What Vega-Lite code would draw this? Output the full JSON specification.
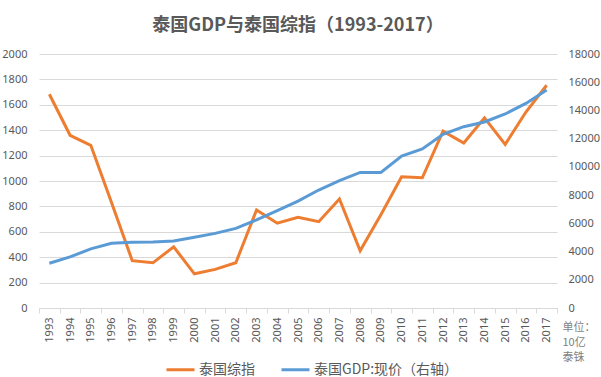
{
  "$schema": "https://vega.github.io/schema/vega-lite/v6.json",
  "autosize": "none",
  "width": 518,
  "height": 254,
  "padding": {"left": 39, "top": 54, "right": 44, "bottom": 69},
  "background": "white",
  "title": {
    "text": "泰国GDP与泰国综指（1993-2017）",
    "font": "Noto Sans CJK SC",
    "fontSize": 18,
    "fontWeight": "bold",
    "color": "#595959",
    "anchor": "middle",
    "offset": 13
  },
  "config": {
    "view": {"stroke": null},
    "axis": {
      "labelFont": "Noto Sans",
      "labelFontSize": 11,
      "labelColor": "#595959",
      "titleFont": "Noto Sans CJK SC"
    }
  },
  "data": {
    "values": [
      {"year": "1993", "sets": 1682.85, "gdp": 3170},
      {"year": "1994", "sets": 1360.09, "gdp": 3620},
      {"year": "1995", "sets": 1280.81, "gdp": 4190},
      {"year": "1996", "sets": 831.57, "gdp": 4590},
      {"year": "1997", "sets": 372.69, "gdp": 4660},
      {"year": "1998", "sets": 355.81, "gdp": 4670},
      {"year": "1999", "sets": 481.92, "gdp": 4750},
      {"year": "2000", "sets": 269.19, "gdp": 5010},
      {"year": "2001", "sets": 303.85, "gdp": 5290},
      {"year": "2002", "sets": 356.48, "gdp": 5640},
      {"year": "2003", "sets": 772.15, "gdp": 6240},
      {"year": "2004", "sets": 668.1, "gdp": 6900},
      {"year": "2005", "sets": 713.73, "gdp": 7580},
      {"year": "2006", "sets": 679.84, "gdp": 8360},
      {"year": "2007", "sets": 858.1, "gdp": 9020},
      {"year": "2008", "sets": 449.96, "gdp": 9610},
      {"year": "2009", "sets": 734.54, "gdp": 9610},
      {"year": "2010", "sets": 1032.76, "gdp": 10770},
      {"year": "2011", "sets": 1025.32, "gdp": 11270},
      {"year": "2012", "sets": 1391.93, "gdp": 12310},
      {"year": "2013", "sets": 1298.71, "gdp": 12850},
      {"year": "2014", "sets": 1497.67, "gdp": 13180},
      {"year": "2015", "sets": 1288.02, "gdp": 13750},
      {"year": "2016", "sets": 1542.94, "gdp": 14500},
      {"year": "2017", "sets": 1753.71, "gdp": 15450}
    ]
  },
  "encoding": {
    "x": {
      "field": "year",
      "type": "ordinal",
      "bandPosition": 0.5,
      "scale": {"type": "band", "paddingInner": 0, "paddingOuter": 0},
      "axis": {
        "labelAngle": -90,
        "labelPadding": 4,
        "tickBand": "extent",
        "tickSize": 5,
        "tickColor": "#d9d9d9",
        "domainColor": "#d9d9d9",
        "grid": false,
        "title": ["单位：", "10亿", "泰铢"],
        "titleAngle": 0,
        "titleAlign": "left",
        "titleBaseline": "top",
        "titleX": 523,
        "titleY": 13,
        "titleFontSize": 11,
        "titleFontWeight": "normal",
        "titleColor": "#7f7f7f",
        "titleLineHeight": 15
      }
    }
  },
  "layer": [
    {
      "mark": {"type": "line", "strokeWidth": 3},
      "encoding": {
        "y": {
          "field": "sets",
          "type": "quantitative",
          "scale": {"domain": [0, 2000]},
          "axis": {
            "orient": "left",
            "values": [0, 200, 400, 600, 800, 1000, 1200, 1400, 1600, 1800, 2000],
            "format": "d",
            "grid": true,
            "gridColor": "#d9d9d9",
            "domain": false,
            "ticks": false,
            "labelPadding": 12,
            "title": null
          }
        },
        "color": {
          "datum": "泰国综指",
          "type": "nominal",
          "scale": {
            "domain": ["泰国综指", "泰国GDP:现价（右轴）"],
            "range": ["#ED7D31", "#5B9BD5"]
          },
          "legend": {
            "orient": "none",
            "legendX": 126,
            "legendY": 300,
            "direction": "horizontal",
            "title": null,
            "symbolType": "stroke",
            "symbolStrokeWidth": 3,
            "symbolSize": 784,
            "labelFont": "Noto Sans CJK SC",
            "labelFontSize": 14,
            "labelColor": "#595959",
            "labelOffset": 3,
            "columnPadding": 20
          }
        }
      }
    },
    {
      "mark": {"type": "line", "strokeWidth": 3},
      "encoding": {
        "y": {
          "field": "gdp",
          "type": "quantitative",
          "scale": {"domain": [0, 18000]},
          "axis": {
            "orient": "right",
            "values": [0, 2000, 4000, 6000, 8000, 10000, 12000, 14000, 16000, 18000],
            "format": "d",
            "grid": false,
            "domain": false,
            "ticks": false,
            "labelPadding": 11,
            "title": null
          }
        },
        "color": {"datum": "泰国GDP:现价（右轴）", "type": "nominal"}
      }
    }
  ],
  "resolve": {"scale": {"y": "independent"}}
}
